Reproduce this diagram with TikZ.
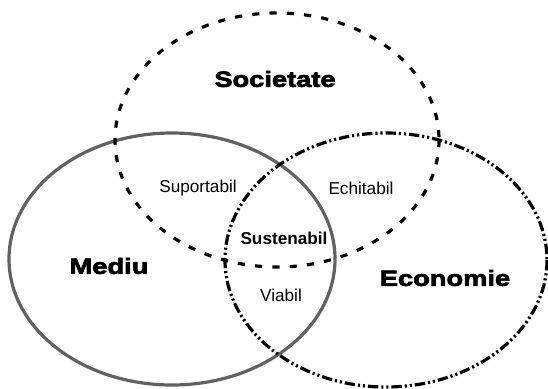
\documentclass[tikz,border=0pt]{standalone}
\usepackage{fontspec}
\setmainfont{Liberation Sans}
\newfontfamily\heavyfont[FakeStretch=1.24,FakeBold=3]{Liberation Sans Bold}
\begin{document}
\begin{tikzpicture}[x=0.75pt,y=-0.75pt,
  setline/.style={line width=2.4pt},
  soc/.style={setline,black,dash pattern=on 5.4pt off 7.6pt},
  med/.style={setline,black!62},
  eco/.style={setline,black,dash pattern=on 7.8pt off 2.2pt on 1.6pt off 2.2pt on 1.6pt off 2.2pt},
  biglbl/.style={font=\heavyfont\fontsize{16.5pt}{18pt}\selectfont,inner sep=0pt},
  smalllbl/.style={font=\fontsize{12.9pt}{14pt}\selectfont,inner sep=0pt},
  boldlbl/.style={font=\bfseries\fontsize{12.9pt}{14pt}\selectfont,inner sep=0pt}]
\useasboundingbox (0,0) rectangle (548,388);
\draw[med] (172,259) ellipse [x radius=163, y radius=126];
\draw[soc] (277,140) ellipse [x radius=162, y radius=127];
\draw[eco] (386,260) ellipse [x radius=161, y radius=127];
\node[biglbl] (societate) at (275,79) {Societate};
\node[biglbl] (mediu) at (109,266) {Mediu};
\node[biglbl] (economie) at (445,278) {Economie};
\node[smalllbl] (suportabil) at (198,188) {Suportabil};
\node[smalllbl] (echitabil) at (361,188) {Echitabil};
\node[boldlbl] (sustenabil) at (284,238) {Sustenabil};
\node[smalllbl] (viabil) at (281,295) {Viabil};
\end{tikzpicture}
\end{document}
